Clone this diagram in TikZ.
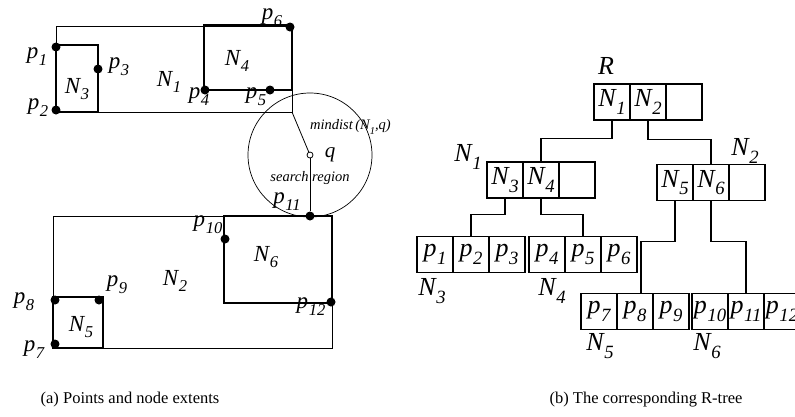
\documentclass[tikz,border=0pt]{standalone}
\usepackage{fontspec}
\usepackage{graphicx}
\setmainfont{Liberation Serif}
\usetikzlibrary{calc}
\newcommand\sbs[1]{\raisebox{-0.3em}{\scalebox{0.72}{#1}}}
\newcommand\lab[2]{\textit{#1\kern0.6pt\sbs{#2}}}
\tikzset{
  thinrect/.style={line width=0.9pt},
  thickrect/.style={line width=2.4pt},
  pt/.style={circle,fill=black,inner sep=0pt,minimum size=9pt},
  lbl/.style={inner sep=0pt,font=\fontsize{23}{23}\selectfont},
  tlbl/.style={inner sep=0pt,font=\fontsize{26}{26}\selectfont},
  cell/.style={draw,line width=1.2pt,minimum width=36pt,minimum height=36pt,inner sep=0pt,font=\fontsize{26}{26}\selectfont},
  conn/.style={line width=1.2pt},
  captext/.style={inner sep=0pt,font=\fontsize{16.5}{16.5}\selectfont},
  small/.style={inner sep=0pt,font=\fontsize{14.5}{14.5}\selectfont}
}
\begin{document}
\begin{tikzpicture}[x=1pt,y=-1pt]
\useasboundingbox (0,0) rectangle (795,416);
% ---------- (a) ----------
\draw[thinrect] (56,26.5) rectangle (292,112);
\draw[thickrect] (56,45) rectangle (98,112);
\draw[thickrect] (204,25.5) rectangle (292,90);
\draw[thinrect] (53,216) rectangle (332,348);
\draw[thickrect] (224,216) rectangle (332,303);
\draw[thickrect] (53,297) rectangle (103,348);
\coordinate (c1) at (292,112);
\node[draw,line width=0.7pt,circle,minimum size=124pt,inner sep=0pt] (sr) at (310,155) {};
\node[draw,circle,fill=white,line width=0.8pt,minimum size=6pt,inner sep=0pt] (q) at (310,155) {};
\node[pt] (p1) at (56,47) {};
\node[pt] (p2) at (56,110) {};
\node[pt] (p3) at (98,69) {};
\node[pt] (p4) at (205,90) {};
\node[pt] (p5) at (270,90) {};
\node[pt] (p6) at (290,27) {};
\node[pt] (p7) at (55,344) {};
\node[pt] (p8) at (55,300) {};
\node[pt] (p9) at (99,300) {};
\node[pt] (p10) at (225,239) {};
\node[pt] (p11) at (310,216) {};
\node[pt] (p12) at (331,302) {};
\draw[line width=0.8pt] (c1) -- (q);
\draw[line width=0.8pt] (q) -- (p11);
\node[lbl] (lp1) at (37,57) {\lab{p}{1}};
\node[lbl] (lp2) at (38,108) {\lab{p}{2}};
\node[lbl] (lp3) at (119,67) {\lab{p}{3}};
\node[lbl] (lN3) at (77,89) {\lab{N}{3}};
\node[lbl] (lN1) at (169,82) {\lab{N}{1}};
\node[lbl] (lN4) at (237,61) {\lab{N}{4}};
\node[lbl] (lp4) at (199,97) {\lab{p}{4}};
\node[lbl] (lp5) at (256,97) {\lab{p}{5}};
\node[lbl] (lp6) at (272,18) {\lab{p}{6}};
\node[small,anchor=west] (lmd) at (310,127) {\textit{mindist\,(N\sbs{1},q)}};
\node[lbl,font=\fontsize{21}{21}\selectfont] (lq) at (330,155) {\textit{q}};
\node[small] (lsr) at (310,178) {\textit{search region}};
\node[lbl] (lp11) at (287,202) {\lab{p}{11}};
\node[lbl] (lp10) at (208,225) {\lab{p}{10}};
\node[lbl] (lN6) at (266,257) {\lab{N}{6}};
\node[lbl] (lN2) at (175,281) {\lab{N}{2}};
\node[lbl] (lp9) at (117,285) {\lab{p}{9}};
\node[lbl] (lp8) at (24,302) {\lab{p}{8}};
\node[lbl] (lN5) at (81,327) {\lab{N}{5}};
\node[lbl] (lp7) at (34,350) {\lab{p}{7}};
\node[lbl] (lp12) at (311,307) {\lab{p}{12}};
% ---------- (b) ----------
\node[cell] (r1) at (612,102) {\lab{N}{1}};
\node[cell] (r2) at (648,102) {\lab{N}{2}};
\node[cell] (r3) at (684,102) {};
\node[cell] (a1) at (505,180) {\lab{N}{3}};
\node[cell] (a2) at (541,180) {\lab{N}{4}};
\node[cell] (a3) at (577,180) {};
\node[cell] (b1) at (675,182.5) {\lab{N}{5}};
\node[cell] (b2) at (711,182.5) {\lab{N}{6}};
\node[cell] (b3) at (747,182.5) {};
\node[cell] (c1a) at (435,254.5) {\lab{p}{1}};
\node[cell] (c2a) at (471,254.5) {\lab{p}{2}};
\node[cell] (c3a) at (507,254.5) {\lab{p}{3}};
\node[cell] (d1) at (547,254.5) {\lab{p}{4}};
\node[cell] (d2) at (583,254.5) {\lab{p}{5}};
\node[cell] (d3) at (619,254.5) {\lab{p}{6}};
\node[cell] (e1) at (599,311.5) {\lab{p}{7}};
\node[cell] (e2) at (635,311.5) {\lab{p}{8}};
\node[cell] (e3) at (671,311.5) {\lab{p}{9}};
\node[cell] (f1) at (710,311.5) {\lab{p}{10}};
\node[cell] (f2) at (746,311.5) {\lab{p}{11}};
\node[cell] (f3) at (782,311.5) {\lab{p}{12}};
\draw[conn] (r1.south) -- ++(0,18) -| (a2.north);
\draw[conn] (r2.south) -- ++(0,19) -| (b2.north);
\draw[conn] (a1.south) -- ++(0,16) -| (c2a.north);
\draw[conn] (a2.south) -- ++(0,16) -| (d2.north);
\draw[conn] (b1.south) -- ++(0,40) -| ([xshift=6pt]e2.north);
\draw[conn] (b2.south) -- ++(0,40) -| (f2.north);
\node[tlbl] (lR) at (606,66) {\textit{R}};
\node[tlbl] (tN1) at (468,157) {\lab{N}{1}};
\node[tlbl] (tN2) at (745,151) {\lab{N}{2}};
\node[tlbl] (tN3) at (432,291) {\lab{N}{3}};
\node[tlbl] (tN4) at (552,291) {\lab{N}{4}};
\node[tlbl] (tN5) at (600,346) {\lab{N}{5}};
\node[tlbl] (tN6) at (707,346) {\lab{N}{6}};
% captions
\node[captext] (capa) at (130,400) {(a) Points and node extents};
\node[captext] (capb) at (646,400) {(b) The corresponding R-tree};
\end{tikzpicture}
\end{document}
